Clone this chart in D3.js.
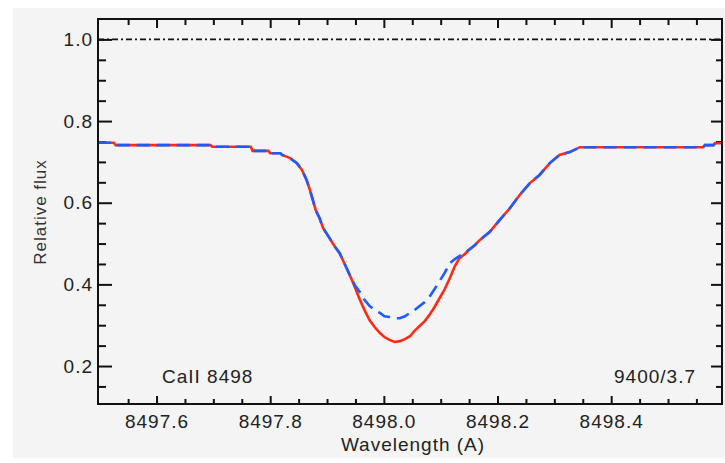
<!DOCTYPE html>
<html>
<head>
<meta charset="utf-8">
<script src="https://cdn.jsdelivr.net/npm/d3@7"></script>
<style>
    body { margin: 0; background: #ffffff; }
    text { font-family: "Liberation Sans", Arial, sans-serif; }
</style>
</head>
<body>
<div id="chart"></div>
<script>
// Wavelength grid (A) and the two profiles
const wavelength = [8497.497, 8497.525, 8497.528, 8497.695, 8497.698, 8497.766, 8497.769, 8497.797, 8497.800, 8497.818,
    8497.821, 8497.834, 8497.847, 8497.856, 8497.864, 8497.870, 8497.875, 8497.880, 8497.887, 8497.893,
    8497.905, 8497.913, 8497.922, 8497.931, 8497.940, 8497.949, 8497.958, 8497.966, 8497.975, 8497.984,
    8497.993, 8498.001, 8498.010, 8498.019, 8498.028, 8498.037, 8498.046, 8498.054, 8498.063, 8498.072,
    8498.081, 8498.089, 8498.098, 8498.107, 8498.116, 8498.125, 8498.133, 8498.142, 8498.151, 8498.160,
    8498.169, 8498.186, 8498.204, 8498.222, 8498.239, 8498.257, 8498.274, 8498.292, 8498.309, 8498.327,
    8498.345, 8498.562, 8498.565, 8498.580, 8498.583, 8498.595];
const flux_red = [0.747, 0.747, 0.741, 0.741, 0.737, 0.737, 0.727, 0.727, 0.721, 0.721,
    0.717, 0.710, 0.697, 0.680, 0.656, 0.631, 0.607, 0.582, 0.562, 0.538,
    0.512, 0.494, 0.477, 0.450, 0.423, 0.393, 0.362, 0.337, 0.312, 0.295,
    0.281, 0.271, 0.264, 0.259, 0.261, 0.266, 0.273, 0.286, 0.298, 0.310,
    0.327, 0.344, 0.366, 0.388, 0.415, 0.445, 0.464, 0.474, 0.486, 0.496,
    0.509, 0.528, 0.558, 0.587, 0.619, 0.648, 0.668, 0.697, 0.717, 0.724,
    0.736, 0.736, 0.741, 0.741, 0.746, 0.746];
const flux_blue = [0.747, 0.747, 0.741, 0.741, 0.737, 0.737, 0.727, 0.727, 0.721, 0.721,
    0.717, 0.710, 0.697, 0.680, 0.656, 0.631, 0.607, 0.582, 0.562, 0.538,
    0.512, 0.494, 0.477, 0.450, 0.423, 0.398, 0.381, 0.362, 0.347, 0.337,
    0.330, 0.322, 0.320, 0.317, 0.317, 0.322, 0.330, 0.337, 0.347, 0.357,
    0.371, 0.388, 0.408, 0.428, 0.452, 0.462, 0.469, 0.477, 0.486, 0.496,
    0.509, 0.528, 0.558, 0.587, 0.619, 0.648, 0.668, 0.697, 0.717, 0.724,
    0.736, 0.736, 0.741, 0.741, 0.746, 0.746];

const x_major = [8497.6, 8497.8, 8498.0, 8498.2, 8498.4];
const x_minor = [8497.55, 8497.65, 8497.7, 8497.75, 8497.85, 8497.9, 8497.95, 8498.05, 8498.1,
    8498.15, 8498.25, 8498.3, 8498.35, 8498.45, 8498.5, 8498.55];
const y_major = [0.2, 0.4, 0.6, 0.8, 1.0];
const y_minor = [0.15, 0.25, 0.3, 0.35, 0.45, 0.5, 0.55, 0.65, 0.7, 0.75, 0.85, 0.9, 0.95];
const continuum = 1.0;
const line_label = "CaII 8498";
const model_label = "9400/3.7";

const svgWidth = 725, svgHeight = 463;
const plotLeft = 98, plotRight = 722, plotTop = 19, plotBottom = 404;

const svg = d3.select("#chart")
    .append("svg")
    .attr("width", svgWidth)
    .attr("height", svgHeight);

// grey panel behind the plot
svg.append("rect")
    .attr("x", 13).attr("y", 8)
    .attr("width", svgWidth - 13).attr("height", 450)
    .attr("fill", "#f4f4f4");

const x = d3.scaleLinear().domain([8497.497, 8498.595]).range([plotLeft, plotRight]);
const y = d3.scaleLinear().domain([0.107, 1.05]).range([plotBottom, plotTop]);

function add_axis(axis, tx, ty) {
    const g = svg.append("g")
        .attr("transform", `translate(${tx},${ty})`)
        .call(axis);
    g.select(".domain").remove();
    g.selectAll("line").attr("stroke", "#111").attr("stroke-width", 2);
    g.selectAll("text")
        .attr("fill", "#222")
        .style("font-size", "19px")
        .style("letter-spacing", "1px");
    return g;
}

// ticks all point inward
add_axis(d3.axisBottom(x).tickValues(x_major).tickFormat(d3.format(".1f")).tickSize(-8).tickPadding(11), 0, plotBottom);
add_axis(d3.axisBottom(x).tickValues(x_minor).tickFormat("").tickSize(-5), 0, plotBottom);
add_axis(d3.axisTop(x).tickValues(x_major).tickFormat("").tickSize(-9), 0, plotTop);
add_axis(d3.axisTop(x).tickValues(x_minor).tickFormat("").tickSize(-6), 0, plotTop);
add_axis(d3.axisLeft(y).tickValues(y_major).tickFormat(d3.format(".1f")).tickSize(-14).tickPadding(5), plotLeft, 0);
add_axis(d3.axisLeft(y).tickValues(y_minor).tickFormat("").tickSize(-8), plotLeft, 0);
add_axis(d3.axisRight(y).tickValues(y_major).tickFormat("").tickSize(-11), plotRight, 0);
add_axis(d3.axisRight(y).tickValues(y_minor).tickFormat("").tickSize(-6), plotRight, 0);

// continuum level
svg.append("line")
    .attr("x1", plotLeft).attr("x2", plotRight)
    .attr("y1", y(continuum)).attr("y2", y(continuum))
    .attr("stroke", "#111")
    .attr("stroke-width", 1.6)
    .attr("stroke-dasharray", "6,3,2,3");

const profile = d3.line()
    .x((d, i) => x(wavelength[i]))
    .y(d => y(d));

svg.append("path")
    .datum(flux_red)
    .attr("d", profile)
    .attr("fill", "none")
    .attr("stroke", "#ff2a14")
    .attr("stroke-width", 2.6);

svg.append("path")
    .datum(flux_blue)
    .attr("d", profile)
    .attr("fill", "none")
    .attr("stroke", "#1f5cff")
    .attr("stroke-width", 2.6)
    .attr("stroke-dasharray", "13,7");

// frame
svg.append("rect")
    .attr("x", plotLeft).attr("y", plotTop)
    .attr("width", plotRight - plotLeft).attr("height", plotBottom - plotTop)
    .attr("fill", "none")
    .attr("stroke", "#111")
    .attr("stroke-width", 2);

svg.append("text")
    .attr("x", 162).attr("y", 383)
    .attr("fill", "#222")
    .style("font-size", "19px")
    .style("letter-spacing", "1px")
    .text(line_label);

svg.append("text")
    .attr("x", 696).attr("y", 383)
    .attr("text-anchor", "end")
    .attr("fill", "#222")
    .style("font-size", "19px")
    .style("letter-spacing", "1px")
    .text(model_label);

svg.append("text")
    .attr("x", 413).attr("y", 451)
    .attr("text-anchor", "middle")
    .attr("fill", "#222")
    .style("font-size", "19px")
    .style("letter-spacing", "1px")
    .text("Wavelength (A)");

svg.append("text")
    .attr("transform", "translate(46,212) rotate(-90)")
    .attr("text-anchor", "middle")
    .attr("fill", "#333")
    .style("font-size", "17px")
    .style("letter-spacing", "1px")
    .text("Relative flux");
</script>
</body>
</html>
